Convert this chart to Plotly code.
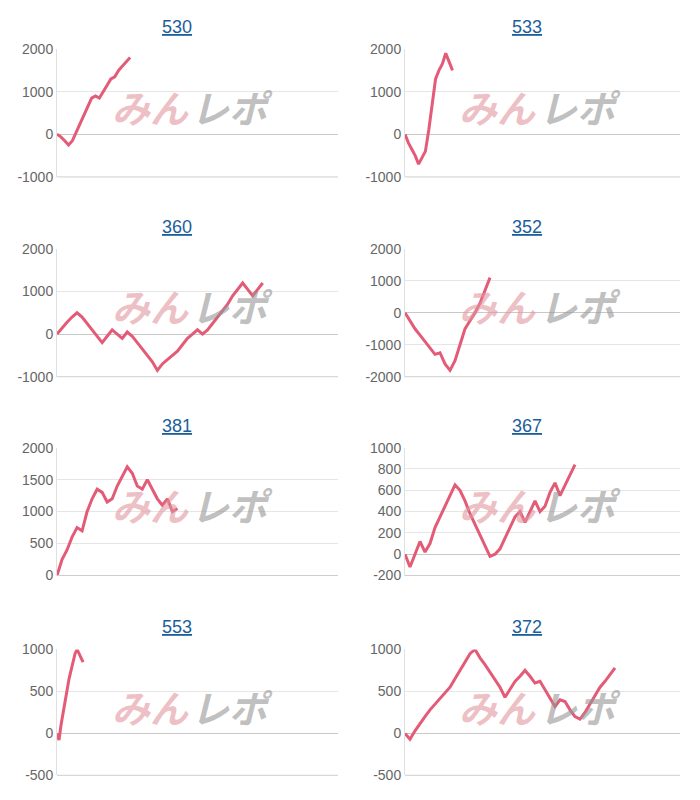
import plotly.graph_objects as go
from plotly.subplots import make_subplots

# chart titles (machine numbers)
titles = ["530", "533", "360", "352", "381", "367", "553", "372"]

# cumulative values, one list per chart
s530 = [0, -60, -150, -250, -150, 50, 250, 450, 650, 850, 900, 850, 1000, 1150,
        1300, 1350, 1500, 1600, 1700, 1800]
s533 = [0, -200, -350, -500, -700, -550, -400, 100, 700, 1300, 1500, 1650, 1900,
        1700, 1500]
s360 = [0, 150, 280, 400, 500, 400, 250, 100, -50, -200, -50, 100, 0, -100, 50,
        -50, -200, -350, -500, -650, -850, -700, -600, -500, -400, -250, -100, 0,
        100, 0, 100, 250, 400, 550, 700, 900, 1050, 1200, 1050, 900, 1050, 1200]
s352 = [0, -250, -500, -700, -900, -1100, -1300, -1250, -1600, -1800, -1500,
        -1000, -500, -250, 0, 300, 700, 1100]
s381 = [0, 250, 400, 600, 750, 700, 1000, 1200, 1350, 1300, 1150, 1200, 1400,
        1550, 1700, 1600, 1400, 1350, 1500, 1350, 1200, 1100, 1200, 1000, 1050]
s367 = [0, -120, 0, 120, 20, 100, 250, 350, 450, 550, 650, 600, 500, 380, 280,
        180, 80, -20, 0, 50, 150, 250, 350, 400, 300, 400, 500, 400, 450, 580,
        670, 550, 650, 750, 840]
s553 = [0, -80, 100, 250, 400, 550, 650, 750, 850, 950, 1000, 950, 880, 850]
s372 = [0, -70, 30, 120, 200, 280, 350, 420, 480, 550, 650, 750, 850, 950, 1000,
        900, 820, 730, 630, 550, 430, 530, 620, 680, 750, 680, 600, 620, 520, 420,
        320, 400, 380, 280, 200, 170, 250, 350, 450, 550, 620, 700, 780]
series = [s530, s533, s360, s352, s381, s367, s553, s372]

# y-axis ticks per chart
yticks = [
    [-1000, 0, 1000, 2000],
    [-1000, 0, 1000, 2000],
    [-1000, 0, 1000, 2000],
    [-2000, -1000, 0, 1000, 2000],
    [0, 500, 1000, 1500, 2000],
    [-200, 0, 200, 400, 600, 800, 1000],
    [-500, 0, 500, 1000],
    [-500, 0, 500, 1000],
]

# x span (in steps) of full plot width, so lines end where they did
xspan = [73, 81, 56, 55, 56, 55, 140, 55]

# target plot areas in screen pixels
rows_px = [(48, 176), (248, 376), (447, 575), (649, 775)]
cols_px = [(57, 338), (405, 680)]
title_x_px = [177, 527]
W, H = 700, 800


# the page draws the figure slightly offset/squeezed; undo that
def px_x(p):
    return (p - 8) / W


def px_y(p):
    return 1 - ((p - 14.9) / 0.981) / H


fig = make_subplots(rows=4, cols=2)

for i, vals in enumerate(series):
    r, c = i // 2, i % 2
    fig.add_trace(go.Scatter(x=list(range(len(vals))), y=vals, mode="lines",
                             line=dict(color="#e35b76", width=3),
                             showlegend=False), row=r + 1, col=c + 1)
    n = i + 1
    xa = "xaxis" if n == 1 else f"xaxis{n}"
    ya = "yaxis" if n == 1 else f"yaxis{n}"
    x0, x1 = cols_px[c]
    t, b = rows_px[r]
    fig.layout[xa].update(domain=[px_x(x0), px_x(x1)], range=[0, xspan[i]],
                          showticklabels=False, showgrid=False, zeroline=False,
                          showline=False)
    tv = yticks[i]
    fig.layout[ya].update(domain=[px_y(b), px_y(t)], range=[tv[0], tv[-1]],
                          tickvals=tv, ticktext=[str(v) for v in tv],
                          gridcolor="#e6e6e6", zeroline=True,
                          zerolinecolor="#c8c8c8", zerolinewidth=1,
                          showline=True, linecolor="#e0e0e0",
                          tickfont=dict(size=14, color="#666"), ticks="")
    fig.add_annotation(text=f"<u>{titles[i]}</u>", x=px_x(title_x_px[c]),
                       y=px_y(t - 22), xref="paper", yref="paper",
                       showarrow=False, xanchor="center", yanchor="middle",
                       font=dict(size=18, color="#1b5e9c", family="Arial"))
    # watermark
    wy = px_y(t + 57)
    fig.add_annotation(text="<b><i>みん</i></b>", x=px_x(x0 + 93), y=wy,
                       xref="paper", yref="paper", showarrow=False,
                       xanchor="center", yanchor="middle",
                       font=dict(size=38, color="rgba(225,150,158,0.6)",
                                 family="Noto Sans CJK JP"))
    fig.add_annotation(text="<b><i>レポ</i></b>", x=px_x(x0 + 175), y=wy,
                       xref="paper", yref="paper", showarrow=False,
                       xanchor="center", yanchor="middle",
                       font=dict(size=38, color="rgba(150,150,150,0.6)",
                                 family="Noto Sans CJK JP"))
    # bottom axis line
    fig.add_shape(type="line", xref="paper", yref="paper",
                  x0=px_x(x0), x1=px_x(x1), y0=px_y(b), y1=px_y(b),
                  line=dict(color="#cfcfcf", width=1))

fig.update_layout(width=W, height=H, margin=dict(l=0, r=0, t=0, b=0),
                  plot_bgcolor="white", paper_bgcolor="white",
                  font=dict(family="Arial"))
fig.write_html("out.html")
